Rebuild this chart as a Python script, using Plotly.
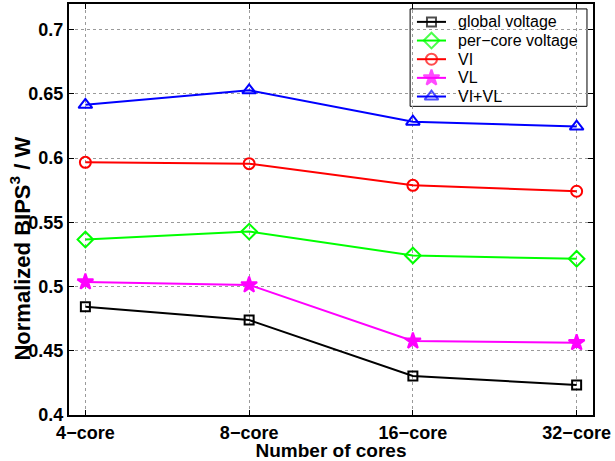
import plotly.graph_objects as go

# Core counts on the x axis
categories = ["4\u2212core", "8\u2212core", "16\u2212core", "32\u2212core"]

# Normalized BIPS^3/W for each power-management scheme
global_voltage = [0.4842, 0.4739, 0.4304, 0.4233]
per_core_voltage = [0.5366, 0.5428, 0.5242, 0.5216]
vi = [0.5967, 0.5957, 0.5788, 0.5742]
vl = [0.5036, 0.5013, 0.4576, 0.4563]
vi_vl = [0.6415, 0.6528, 0.6284, 0.6246]

y_ticks = [0.4, 0.45, 0.5, 0.55, 0.6, 0.65, 0.7]
y_tick_labels = ["0.4", "0.45", "0.5", "0.55", "0.6", "0.65", "0.7"]

series_names = ["global voltage", "per\u2212core voltage", "VI", "VL", "VI+VL"]
series_values = [global_voltage, per_core_voltage, vi, vl, vi_vl]
series_colors = ["#000000", "#00ff00", "#ff0000", "#ff00ff", "#0000ff"]
series_symbols = ["square-open", "diamond-open", "circle-open", "star", "triangle-up-open"]
series_sizes = [9, 12, 11, 12, 12]

font_family = "Liberation Sans, Arial, sans-serif"

x = list(range(len(categories)))

fig = go.Figure()
for name, vals, color, sym, size in zip(series_names, series_values, series_colors,
                                        series_symbols, series_sizes):
    fig.add_trace(go.Scatter(
        x=x, y=vals, name=name, mode="lines+markers", showlegend=False,
        line=dict(color=color, width=2),
        marker=dict(symbol=sym, size=size, color=color,
                    line=dict(color=color, width=2)),
    ))

# Compact legend box in the upper-right corner, drawn on an overlay axis
# whose [0, 1] range spans the plot area.
leg_left, leg_right = 0.651, 0.9885
leg_top, leg_bottom = 0.988, 0.751
row_top, row_step = 0.9565, 0.0454
key_x0, key_x1 = 0.664, 0.7195
text_x = 0.738

fig.add_shape(type="rect", xref="paper", yref="paper",
              x0=leg_left, x1=leg_right, y0=leg_bottom, y1=leg_top,
              line=dict(color="black", width=1), fillcolor="white", layer="between")

for i, (name, color, sym, size) in enumerate(zip(series_names, series_colors,
                                                 series_symbols, series_sizes)):
    ry = row_top - i * row_step
    kx = (key_x0 + key_x1) / 2
    fig.add_trace(go.Scatter(
        x=[key_x0, kx, key_x1], y=[ry, ry, ry], xaxis="x2", yaxis="y2",
        mode="lines+markers", showlegend=False, hoverinfo="skip",
        line=dict(color=color, width=2),
        marker=dict(symbol=sym, size=[0, size, 0], color=color,
                    line=dict(color=color, width=2)),
    ))
    fig.add_annotation(x=text_x, y=ry, xref="paper", yref="paper",
                       text=name, showarrow=False, xanchor="left", yanchor="middle",
                       font=dict(size=16, family=font_family, color="black"))

# Y-axis label, placed a little below the axis midpoint
fig.add_annotation(x=-0.0935, y=0.405, xref="paper", yref="paper",
                   text="Normalized BIPS<sup>3</sup> / W", textangle=-90,
                   showarrow=False, xanchor="center", yanchor="middle",
                   font=dict(size=22, family=font_family, color="black", weight="bold"))

fig.update_layout(
    width=615, height=461,
    margin=dict(l=69, r=22, t=2, b=46),
    paper_bgcolor="white", plot_bgcolor="white",
    font=dict(family=font_family, color="black"),
    showlegend=False,
    xaxis=dict(
        range=[-0.1, 3.1],
        tickmode="array", tickvals=x, ticktext=categories,
        tickfont=dict(size=18, weight="bold"),
        title=dict(text="Number of cores", font=dict(size=19, weight="bold"), standoff=2),
        showline=True, linecolor="black", linewidth=2, mirror="ticks",
        ticks="inside", ticklen=5, tickcolor="black", tickwidth=1,
        showgrid=True, gridcolor="#9a9a9a", griddash="dot", gridwidth=1,
        zeroline=False,
    ),
    yaxis=dict(
        range=[0.4, 0.72],
        tickmode="array", tickvals=y_ticks, ticktext=y_tick_labels,
        tickfont=dict(size=18, weight="bold"),
        showline=True, linecolor="black", linewidth=2, mirror="ticks",
        ticks="inside", ticklen=5, tickcolor="black", tickwidth=1,
        showgrid=True, gridcolor="#9a9a9a", griddash="dot", gridwidth=1,
        zeroline=False,
    ),
    xaxis2=dict(overlaying="x", range=[0, 1], visible=False, fixedrange=True),
    yaxis2=dict(overlaying="y", range=[0, 1], visible=False, fixedrange=True),
)

fig.write_html("out.html")
